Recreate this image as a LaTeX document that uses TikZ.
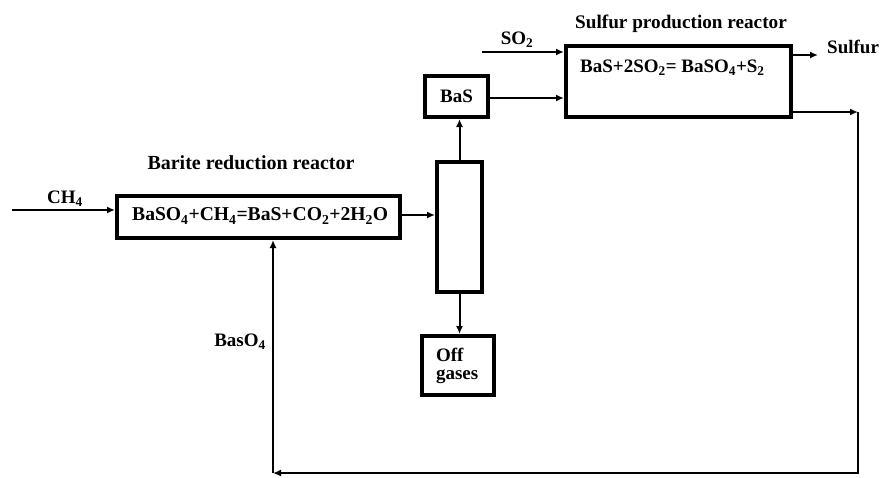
\documentclass[tikz,border=0pt]{standalone}
\usepackage{fontspec}
\setmainfont{Liberation Serif}
\usetikzlibrary{arrows.meta}
\begin{document}
\begin{tikzpicture}[x=1pt,y=-1pt,
  box/.style={draw, line width=4pt, inner sep=0pt, font=\bfseries\fontsize{19}{21}\selectfont},
  arr/.style={line width=2pt, -{Latex[length=8pt,width=7pt]}},
  lbl/.style={font=\bfseries\fontsize{19}{21}\selectfont, inner sep=0pt},
  ttl/.style={font=\bfseries\fontsize{20}{22}\selectfont, inner sep=0pt}]
\useasboundingbox (0,0) rectangle (881,477);
% boxes
\node[box, minimum width=283pt, minimum height=42pt] (barite) at (258.5,217) {};
\node[lbl, anchor=west, font=\bfseries\fontsize{19.6}{21}\selectfont] (eq1) at (132,216) {BaSO\textsubscript{4}+CH\textsubscript{4}=BaS+CO\textsubscript{2}+2H\textsubscript{2}O};
\node[box, minimum width=45pt, minimum height=130pt] (column) at (459.5,227) {};
\node[box, minimum width=63pt, minimum height=41pt] (bas) at (456.5,96.5) {BaS};
\node[box, minimum width=225pt, minimum height=71pt] (sulfur) at (678.5,81.5) {};
\node[lbl, anchor=west] (eq2) at (580,68) {BaS+2SO\textsubscript{2}= BaSO\textsubscript{4}+S\textsubscript{2}};
\node[box, minimum width=72pt, minimum height=59pt, align=left, text width=44pt] (off) at (458,365.5) {Off\\[-3pt]gases};
% titles and labels
\node[ttl] (t1) at (251,163) {Barite reduction reactor};
\node[ttl, font=\bfseries\fontsize{19.2}{22}\selectfont] (t2) at (681,24) {Sulfur production reactor};
\node[lbl] (lch4) at (65,199) {CH\textsubscript{4}};
\node[lbl] (lso2) at (517,40) {SO\textsubscript{2}};
\node[lbl, anchor=west] (lsul) at (827,47) {Sulfur};
\node[lbl] (lbaso) at (240,342) {BasO\textsubscript{4}};
% coordinates
\coordinate (ch4in) at (12,210);
\coordinate (so2in) at (482,52);
\coordinate (sout) at (818,55);
\coordinate (r1) at (858,112);
\coordinate (r2) at (858,473);
\coordinate (r3) at (273,473);
% connectors
\draw[arr] (ch4in) -- (barite.west |- ch4in);
\draw[arr] (barite.east |- 0,215) -- (column.west |- 0,215);
\draw[arr] (column.north) -- (column.north |- bas.south);
\draw[arr] (bas.east |- 0,98) -- (sulfur.west |- 0,98);
\draw[arr] (so2in) -- (so2in -| sulfur.west);
\draw[arr] (sout -| sulfur.east) -- (sout);
\draw[arr] (column.south) -- (column.south |- off.north);
\draw[arr] (r1 -| sulfur.east) -- (r1);
\draw[arr] (r1) -- (r2) -- (r3);
\draw[arr] (r3) -- (r3 |- barite.south);
\end{tikzpicture}
\end{document}
